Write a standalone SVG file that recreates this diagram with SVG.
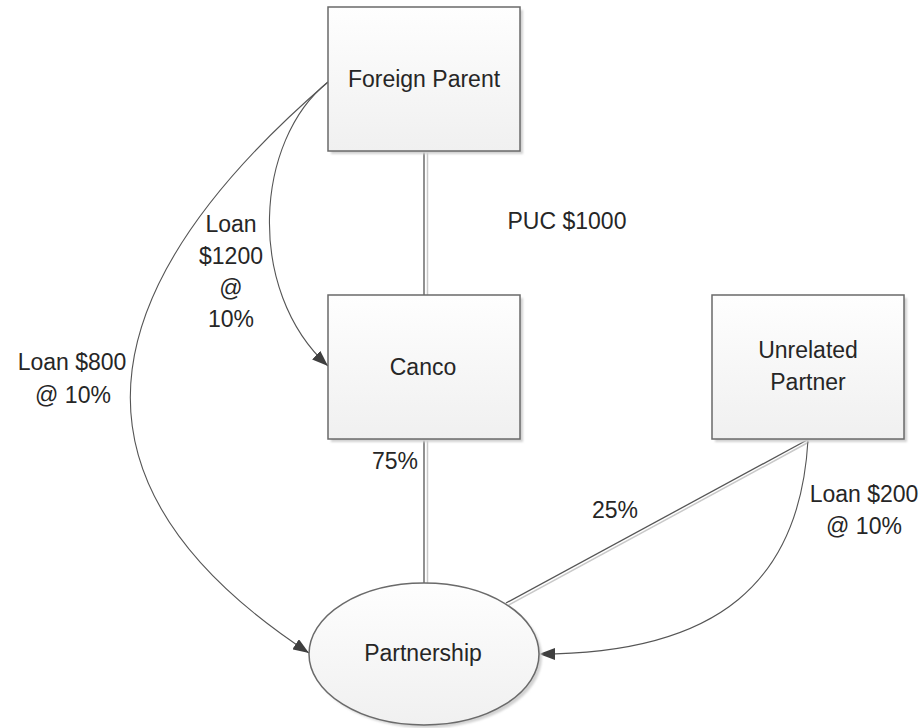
<svg xmlns="http://www.w3.org/2000/svg" width="922" height="728" viewBox="0 0 922 728">
  <style>
    .box { fill: url(#boxFill); stroke: #6a6a6a; stroke-width: 1.5; }
    .shadow { fill: #d2d2d2; filter: url(#soft); }
    .label { font-family: "Liberation Sans", Arial, sans-serif; font-size: 23px; fill: #262626; text-anchor: middle; }
    .link { fill: none; stroke: #555555; stroke-width: 1.3; }
    .link-shade { fill: none; stroke: #c9c9c9; stroke-width: 1.5; }
    .flow { fill: none; stroke: #555555; stroke-width: 1.1; marker-end: url(#arrow); }
  </style>
  <defs>
    <linearGradient id="boxFill" x1="0" y1="0" x2="0" y2="1">
      <stop offset="0" stop-color="#fefefe"/>
      <stop offset="1" stop-color="#f0f0f0"/>
    </linearGradient>
    <filter id="soft" x="-10%" y="-10%" width="120%" height="120%">
      <feGaussianBlur stdDeviation="1"/>
    </filter>
    <marker id="arrow" viewBox="0 0 16 12" refX="16" refY="6" markerWidth="16" markerHeight="12" markerUnits="userSpaceOnUse" orient="auto">
      <path d="M0,0 L16,6 L0,12 Z" fill="#3f3f3f"/>
    </marker>
  </defs>

  <rect width="922" height="728" fill="#ffffff"/>

  <!-- connectors -->
  <g id="connectors">
    <!-- ownership lines (double stroke) -->
    <line class="link-shade" x1="427.5" y1="151" x2="427.5" y2="295"/>
    <line class="link" x1="424" y1="151" x2="424" y2="295"/>
    <line class="link-shade" x1="427.5" y1="439" x2="427.5" y2="584"/>
    <line class="link" x1="424" y1="439" x2="424" y2="584"/>
    <line class="link-shade" x1="809" y1="442" x2="507" y2="606"/>
    <line class="link" x1="808" y1="439.5" x2="506" y2="603"/>
    <!-- loans -->
    <path class="flow" d="M328,82 C255,140 245,290 328,366"/>
    <path class="flow" d="M328,82 C110,270 30,470 309,653"/>
    <path class="flow" d="M808,440 C800,580 720,654 539,654"/>
  </g>

  <!-- connector labels -->
  <g id="labels">
    <text class="label" x="567" y="229">PUC $1000</text>
    <text class="label" x="231" y="232">Loan</text>
    <text class="label" x="231" y="264">$1200</text>
    <text class="label" x="231" y="296">@</text>
    <text class="label" x="231" y="327">10%</text>
    <text class="label" x="72" y="370">Loan $800</text>
    <text class="label" x="73" y="403">@ 10%</text>
    <text class="label" x="395" y="469">75%</text>
    <text class="label" x="615" y="518">25%</text>
    <text class="label" x="864" y="502">Loan $200</text>
    <text class="label" x="864" y="534">@ 10%</text>
  </g>

  <g id="foreign-parent">
    <rect class="shadow" x="331" y="10" width="192" height="144"/>
    <rect class="box" x="328" y="7" width="192" height="144"/>
    <text class="label" x="424" y="87">Foreign Parent</text>
  </g>

  <g id="canco">
    <rect class="shadow" x="331" y="298" width="192" height="144"/>
    <rect class="box" x="328" y="295" width="192" height="144"/>
    <text class="label" x="423" y="375">Canco</text>
  </g>

  <g id="unrelated-partner">
    <rect class="shadow" x="715" y="298" width="192" height="144"/>
    <rect class="box" x="712" y="295" width="192" height="144"/>
    <text class="label" x="808" y="358">Unrelated</text>
    <text class="label" x="808" y="390">Partner</text>
  </g>

  <g id="partnership">
    <ellipse class="shadow" cx="427" cy="657" rx="115" ry="71"/>
    <ellipse class="box" cx="424" cy="654" rx="115" ry="71"/>
    <text class="label" x="423" y="661">Partnership</text>
  </g>
</svg>
